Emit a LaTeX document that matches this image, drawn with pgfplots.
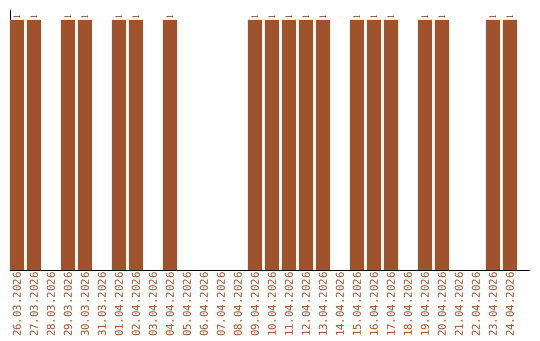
\documentclass[border=0pt]{standalone}
\usepackage{pgfplots}
\pgfplotsset{compat=1.18}
\usepackage{fontspec}
\setmainfont{DejaVu Sans Mono}
\definecolor{barc}{HTML}{A0522D}
\definecolor{lblc}{HTML}{6B3418}
\begin{document}
\begin{tikzpicture}[x=1bp,y=1bp]
\path (0,0) rectangle (540,340);
\begin{axis}[
  at={(10bp,70bp)}, anchor=south west,
  scale only axis, width=520bp, height=260bp,
  xmin=-0.41, xmax=30.18, ymin=0, ymax=1.04,
  axis x line=bottom, axis y line=left,
  axis line style={black, -},
  ytick=\empty,
  xtick={0,...,29},
  xticklabels={26.03.2026,27.03.2026,28.03.2026,29.03.2026,30.03.2026,31.03.2026,01.04.2026,02.04.2026,03.04.2026,04.04.2026,05.04.2026,06.04.2026,07.04.2026,08.04.2026,09.04.2026,10.04.2026,11.04.2026,12.04.2026,13.04.2026,14.04.2026,15.04.2026,16.04.2026,17.04.2026,18.04.2026,19.04.2026,20.04.2026,21.04.2026,22.04.2026,23.04.2026,24.04.2026},
  xticklabel style={rotate=90, anchor=east, font=\fontsize{10.8}{11}\selectfont, text=barc, inner sep=2bp},
  major tick length=0pt,
  ybar, bar width=14bp, bar shift=0pt,
  nodes near coords,
  every node near coord/.append style={rotate=90, anchor=west, font=\fontsize{10}{10}\selectfont, text=lblc, inner sep=1bp, xshift=-1bp},
  clip=false,
]
\addplot[fill=barc, draw=none] coordinates {
(0,1) (1,1) (3,1) (4,1) (6,1) (7,1) (9,1)
(14,1) (15,1) (16,1) (17,1) (18,1)
(20,1) (21,1) (22,1) (24,1) (25,1) (28,1) (29,1)
};
\end{axis}
\end{tikzpicture}
\end{document}
